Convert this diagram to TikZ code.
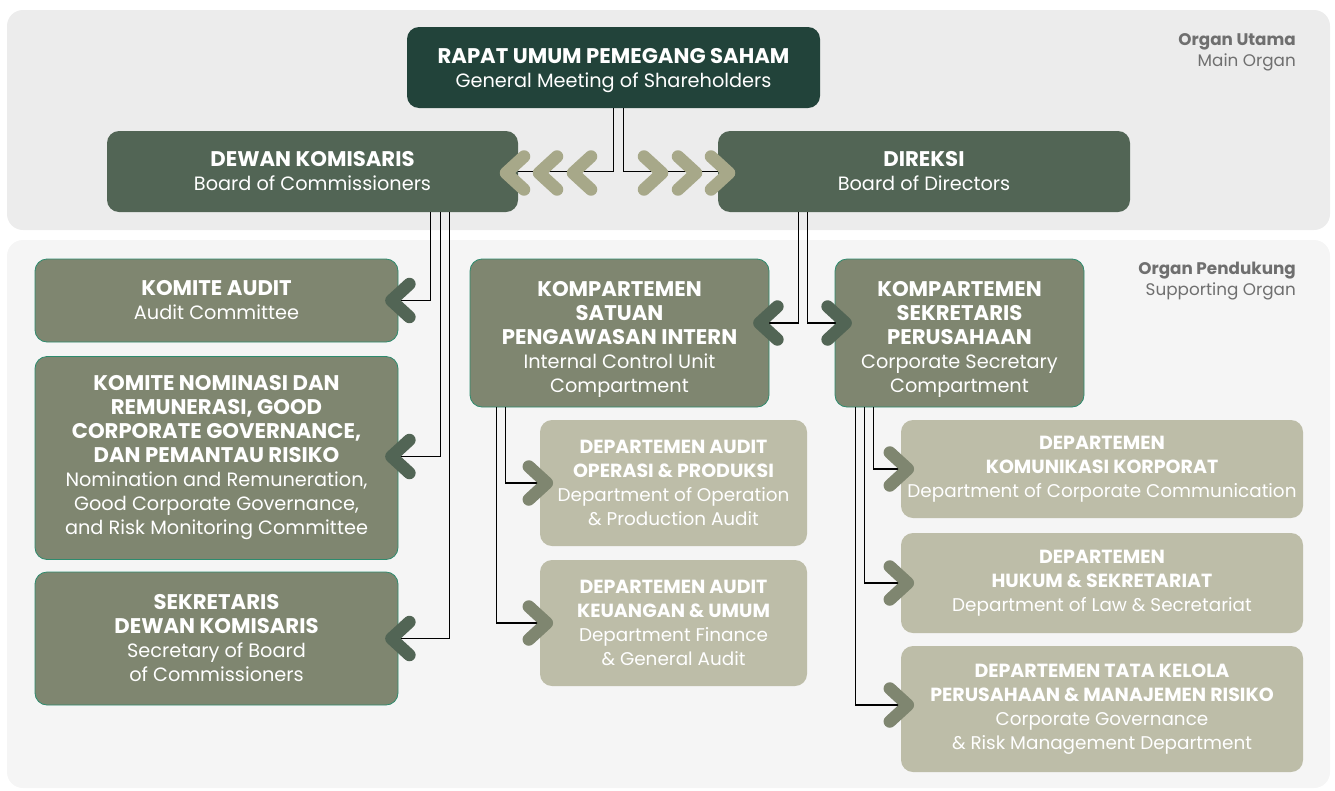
\documentclass[tikz,border=0pt]{standalone}
\usepackage{fontspec}
\setmainfont{Poppins}
\usetikzlibrary{positioning}

\definecolor{panelTop}{HTML}{ECECEC}
\definecolor{panelLow}{HTML}{F5F5F5}
\definecolor{rupsGreen}{HTML}{22433A}
\definecolor{organGreen}{HTML}{526555}
\definecolor{olive}{HTML}{7F8670}
\definecolor{oliveEdge}{HTML}{2E8B6E}
\definecolor{sand}{HTML}{BDBDA8}
\definecolor{chevPale}{HTML}{A7A889}
\definecolor{labelGray}{HTML}{6F6F6F}

% bold heading lines, one size for the organ boxes and one for the departments
\newcommand{\hd}[1]{{\fontsize{21.2}{24}\selectfont\bfseries #1}}
\newcommand{\dhd}[1]{{\fontsize{19}{24}\selectfont\bfseries #1}}

\tikzset{
  chevleft/.pic={\draw[pic actions, line width=12.5pt, line cap=round, line join=round] (18,-16.5) -- (0,0) -- (18,16.5);},
  chevright/.pic={\draw[pic actions, line width=12.5pt, line cap=round, line join=round] (-18,-16.5) -- (0,0) -- (-18,16.5);}
}

\begin{document}
\begin{tikzpicture}[
    x=1pt, y=-1pt,
    boxtext/.style={text=white, align=center, inner sep=0pt,
                font=\fontsize{19.3}{24}\selectfont},
    box/.style={boxtext, rounded corners=12pt},
    organ/.style={box, fill=organGreen},
    komite/.style={box, fill=olive, draw=oliveEdge, line width=0.8pt},
    dept/.style={box, fill=sand, font=\fontsize{18.4}{24}\selectfont},
    link/.style={draw=black, line width=1.3pt},
    tag/.style={anchor=north east, align=right, text=labelGray, inner sep=0pt,
                font=\fontsize{16.8}{20.5}\selectfont}
]
  \useasboundingbox (0,0) rectangle (1335,790);

  % --- background panels ---
  \fill[panelTop, rounded corners=16pt] (7,10) rectangle (1330,230);
  \fill[panelLow, rounded corners=16pt] (7,240) rectangle (1330,788);

  \node[tag] (utama) at (1296,33.5) {\textbf{Organ Utama}\\Main Organ};
  \node[tag] (pendukung) at (1296,262) {\textbf{Organ Pendukung}\\Supporting Organ};

  % --- main organ ---
  \node[box, fill=rupsGreen, minimum width=413pt, minimum height=81pt] (rups) at (613.5,67.5) {};
  \node[boxtext] (rups-text) at ([yshift=-3.5pt]rups.center)
    {\hd{RAPAT UMUM PEMEGANG SAHAM}\\General Meeting of Shareholders};
  \node[organ, minimum width=411pt, minimum height=81pt] (dk) at (312.5,171.5)
    {\hd{DEWAN KOMISARIS}\\Board of Commissioners};
  \node[organ, minimum width=412pt, minimum height=81pt] (dir) at (924,171.5)
    {\hd{DIREKSI}\\Board of Directors};

  % --- committees under the board of commissioners ---
  \node[komite, minimum width=363pt, minimum height=83pt] (audit) at (216.5,300.5)
    {\hd{KOMITE AUDIT}\\Audit Committee};
  \node[komite, minimum width=363pt, minimum height=203pt] (nominasi) at (216.5,458)
    {\hd{KOMITE NOMINASI DAN}\\\hd{REMUNERASI, GOOD}\\\hd{CORPORATE GOVERNANCE,}\\\hd{DAN PEMANTAU RISIKO}\\Nomination and Remuneration,\\Good Corporate Governance,\\and Risk Monitoring Committee};
  \node[komite, minimum width=363pt, minimum height=133pt] (sekdk) at (216.5,638.5)
    {\hd{SEKRETARIS}\\\hd{DEWAN KOMISARIS}\\Secretary of Board\\of Commissioners};

  % --- compartments under the directors ---
  \node[komite, minimum width=299pt, minimum height=148pt] (spi) at (619.5,333) {};
  \node[boxtext] (spi-text) at ([yshift=-6pt]spi.center)
    {\hd{KOMPARTEMEN}\\\hd{SATUAN}\\\hd{PENGAWASAN INTERN}\\Internal Control Unit\\Compartment};
  \node[komite, minimum width=249pt, minimum height=148pt] (sekper) at (959.5,333) {};
  \node[boxtext] (sekper-text) at ([yshift=-6pt]sekper.center)
    {\hd{KOMPARTEMEN}\\\hd{SEKRETARIS}\\\hd{PERUSAHAAN}\\Corporate Secretary\\Compartment};

  % --- departments ---
  \node[dept, minimum width=267pt, minimum height=126pt] (opr) at (673.5,483)
    {\dhd{DEPARTEMEN AUDIT}\\\dhd{OPERASI \& PRODUKSI}\\Department of Operation\\\& Production Audit};
  \node[dept, minimum width=267pt, minimum height=126pt] (keu) at (673.5,623)
    {\dhd{DEPARTEMEN AUDIT}\\\dhd{KEUANGAN \& UMUM}\\Department Finance\\\& General Audit};
  \node[dept, minimum width=402pt, minimum height=98pt] (kom) at (1102,469)
    {\dhd{DEPARTEMEN}\\\dhd{KOMUNIKASI KORPORAT}\\Department of Corporate Communication};
  \node[dept, minimum width=402pt, minimum height=100pt] (hukum) at (1102,583)
    {\dhd{DEPARTEMEN}\\\dhd{HUKUM \& SEKRETARIAT}\\Department of Law \& Secretariat};
  \node[dept, minimum width=402pt, minimum height=126pt] (tata) at (1102,709)
    {\dhd{DEPARTEMEN TATA KELOLA}\\\dhd{PERUSAHAAN \& MANAJEMEN RISIKO}\\Corporate Governance\\\& Risk Management Department};

  % --- arrow tips ---
  \coordinate (to-audit) at ([xshift=-7pt]audit.east);
  \coordinate (to-nominasi) at ([shift={(-7pt,1.5pt)}]nominasi.east);
  \coordinate (to-sekdk) at ([xshift=-7pt]sekdk.east);
  \coordinate (to-spi) at ([shift={(-10pt,10pt)}]spi.east);
  \coordinate (to-sekper) at ([shift={(11pt,10pt)}]sekper.west);
  \coordinate (to-opr) at ([xshift=7pt]opr.west);
  \coordinate (to-keu) at ([xshift=7pt]keu.west);
  \coordinate (to-kom) at ([xshift=7pt]kom.west);
  \coordinate (to-hukum) at ([xshift=7pt]hukum.west);
  \coordinate (to-tata) at ([shift={(7pt,4pt)}]tata.west);

  % --- connectors ---
  \draw[link] (rups.south) |- (dk.east);
  \draw[link] ([xshift=10pt]rups.south) |- (dir.west);
  \draw[link] ([xshift=-88pt]dk.south east) |- (to-audit);
  \draw[link] ([xshift=-78pt]dk.south east) |- (to-nominasi);
  \draw[link] ([xshift=-69pt]dk.south east) |- (to-sekdk);
  \draw[link] ([xshift=81pt]dir.south west) |- (to-spi);
  \draw[link] ([xshift=90pt]dir.south west) |- (to-sekper);
  \draw[link] ([xshift=36pt]spi.south west) |- (to-opr);
  \draw[link] ([xshift=27pt]spi.south west) |- (to-keu);
  \draw[link] ([xshift=39pt]sekper.south west) |- (to-kom);
  \draw[link] ([xshift=30pt]sekper.south west) |- (to-hukum);
  \draw[link] ([xshift=21pt]sekper.south west) |- (to-tata);

  % chevrons between the two boards
  \foreach \cx in {506,539,573}
    \pic[draw=chevPale] at (\cx,173) {chevleft};
  \foreach \cx in {662,696,729}
    \pic[draw=chevPale] at (\cx,173) {chevright};

  \foreach \t in {audit,nominasi,sekdk,spi}
    \pic[draw=organGreen] at (to-\t) {chevleft};
  \pic[draw=organGreen] at (to-sekper) {chevright};
  \foreach \t in {opr,keu,kom,hukum,tata}
    \pic[draw=olive] at (to-\t) {chevright};

\end{tikzpicture}
\end{document}
